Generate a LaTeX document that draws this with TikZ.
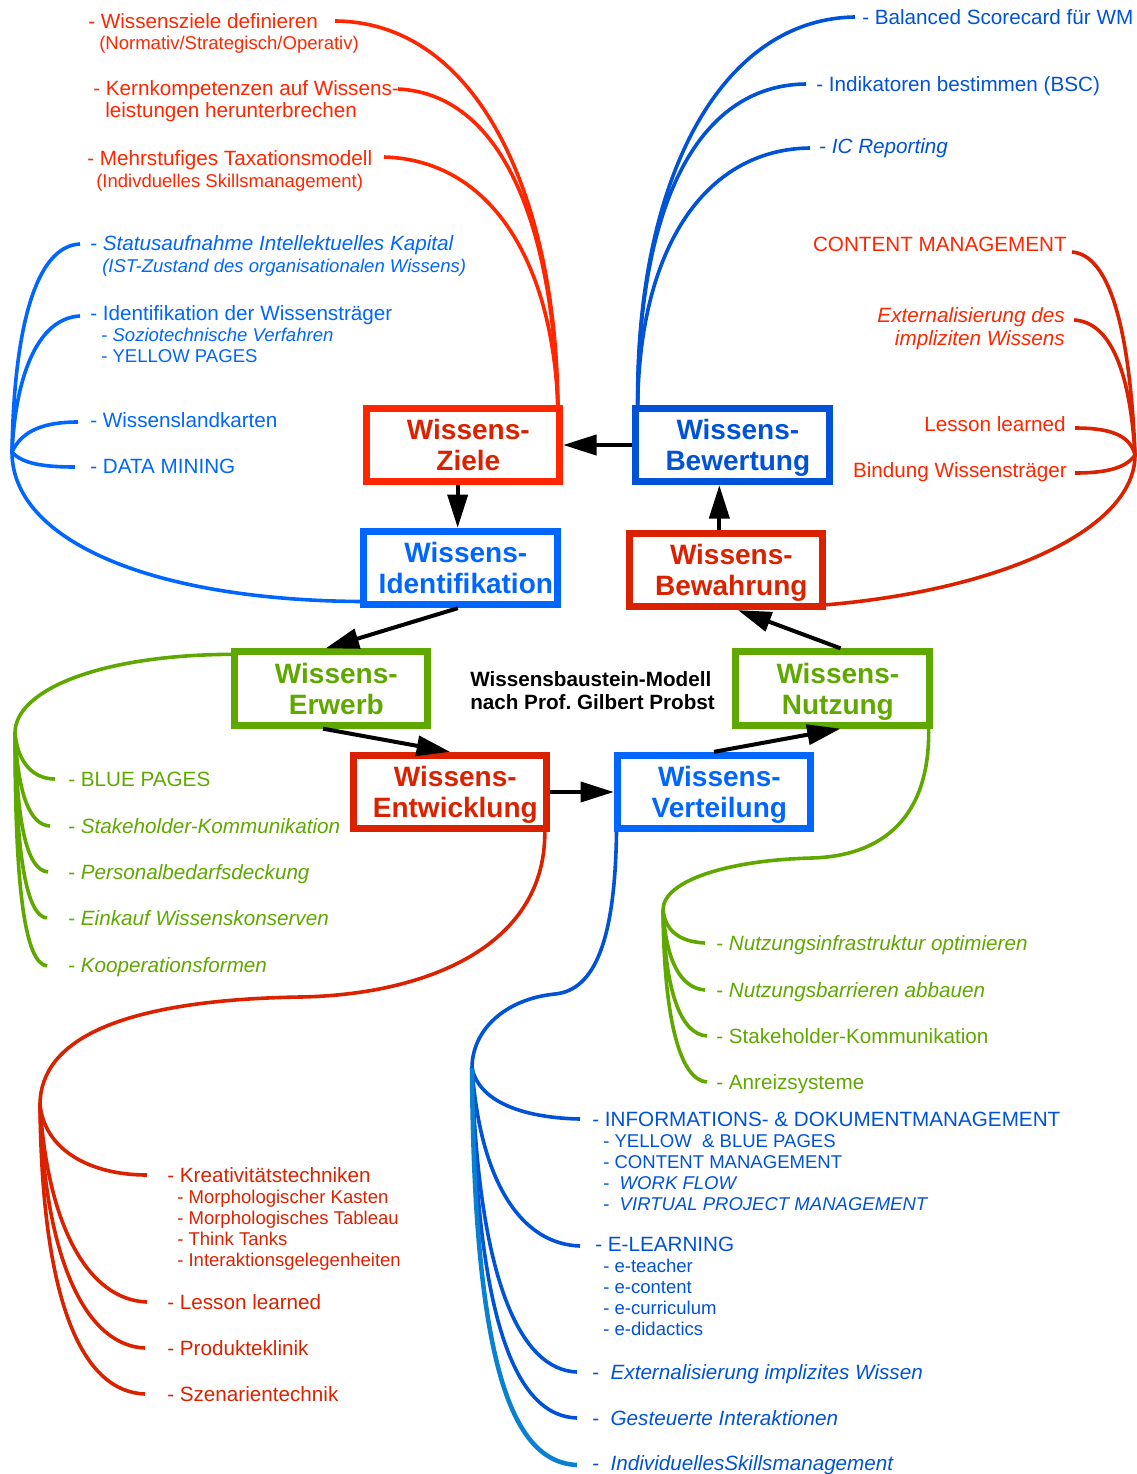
\documentclass[tikz,border=0pt]{standalone}
\usepackage{fontspec}
\setmainfont{Liberation Sans}
\usetikzlibrary{arrows.meta,calc}

\definecolor{rotHell}{HTML}{FF2600}
\definecolor{rotDunkel}{HTML}{DA2200}
\definecolor{blauHell}{HTML}{0066FF}
\definecolor{blauDunkel}{HTML}{0052D6}
\definecolor{blauTuerkis}{HTML}{0A80D0}
\definecolor{gruen}{HTML}{5FA800}

\newcommand{\unter}{\fontsize{13.9}{15.75}\selectfont}
\newcommand{\bst}[2]{\hspace*{8pt}\rule{0pt}{20pt}#1\\\hspace*{8pt}#2\rule[-4.5pt]{0pt}{4.5pt}}
\frenchspacing

\begin{document}
\begin{tikzpicture}[x=0.75pt,y=-0.75pt,
    baustein/.style={draw, line width=5.25pt, minimum width=145pt, minimum height=55pt,
      inner sep=0pt, align=center, font=\bfseries\fontsize{21}{23.25}\selectfont},
    punkt/.style={anchor=north west, inner sep=0pt, align=left, font=\fontsize{15.5}{15.75}\selectfont},
    punktR/.style={punkt, anchor=north east, align=right},
    pfeil/.style={-{Triangle[length=25pt,width=15pt]}, line width=3pt, black},
    ast/.style={line width=2.7pt}]
  \useasboundingbox (0,0) rectangle (1137,1474);

  % Bausteine
  \node[baustein, draw=rotHell, text=rotDunkel] (ziele) at (463,445) {\bst{Wissens-}{Ziele}};
  \node[baustein, draw=blauDunkel, text=blauDunkel] (bewertung) at (732.5,445) {\bst{Wissens-}{Bewertung}};
  \node[baustein, draw=blauHell, text=blauHell] (ident) at (460.5,568) {\bst{Wissens-}{Identifikation}};
  \node[baustein, draw=rotDunkel, text=rotDunkel] (bewahrung) at (726,570) {\bst{Wissens-}{Bewahrung}};
  \node[baustein, draw=gruen, text=gruen] (erwerb) at (331,688.5) {\bst{Wissens-}{Erwerb}};
  \node[baustein, draw=gruen, text=gruen] (nutzung) at (832.5,688.5) {\bst{Wissens-}{Nutzung}};
  \node[baustein, draw=rotDunkel, text=rotDunkel] (entw) at (450,792) {\bst{Wissens-}{Entwicklung}};
  \node[baustein, draw=blauHell, text=blauHell] (vert) at (714,792) {\bst{Wissens-}{Verteilung}};

  \node[punkt, font=\bfseries\fontsize{15.5}{17.25}\selectfont] (titel) at (470,671)
    {Wissensbaustein-Modell\\nach Prof. Gilbert Probst};

  % Kreislauf
  \draw[pfeil] (bewertung.west) -- (ziele.east);
  \draw[pfeil] ([xshift=-4pt]ziele.south) -- ([xshift=-4pt]ziele.south |- ident.north);
  \draw[pfeil] ([xshift=-2pt]ident.south) -- ([xshift=-4pt]erwerb.north);
  \draw[pfeil] ([xshift=-6pt]erwerb.south) -- (entw.north);
  \draw[pfeil] (entw.east) -- (vert.west);
  \draw[pfeil] (vert.north) -- ([xshift=6pt]nutzung.south);
  \draw[pfeil] ([xshift=6pt]nutzung.north) -- ([xshift=9pt]bewahrung.south);
  \draw[pfeil] ([xshift=-5pt]bewahrung.north) -- ([xshift=-5pt]bewahrung.north |- bewertung.south);

  % Ziele
  \node[punkt, text=rotHell] (tZ1) at (88,13) {- Wissensziele definieren\\
    \hspace*{8.25pt}{\unter(Normativ/Strategisch/Operativ)}};
  \node[punkt, text=rotHell] (tZ2) at (93,80) {- Kernkompetenzen auf Wissens-\\[0.75pt]
    \hspace*{9pt}leistungen herunterbrechen};
  \node[punkt, text=rotHell] (tZ3) at (87,150) {- Mehrstufiges Taxationsmodell\\[0.75pt]
    \hspace*{6.75pt}{\unter(Indivduelles Skillsmanagement)}};
  \coordinate (eZ1) at (335,21);
  \coordinate (eZ2) at (398,89);
  \coordinate (eZ3) at (384,157);
  \draw[ast, rotHell] (eZ1) .. controls (480,22) and (556,200) .. ([xshift=-4pt]ziele.north east);
  \draw[ast, rotHell] (eZ2) .. controls (500,94) and (553,220) .. ([xshift=-4pt]ziele.north east);
  \draw[ast, rotHell] (eZ3) .. controls (490,160) and (552,260) .. ([xshift=-4pt]ziele.north east);

  % Bewertung
  \node[punkt, text=blauDunkel] (tB1) at (862,9) {- Balanced Scorecard für WM};
  \node[punkt, text=blauDunkel] (tB2) at (816,76) {- Indikatoren bestimmen (BSC)};
  \node[punkt, text=blauDunkel] (tB3) at (819,138) {- \textit{IC Reporting}};
  \coordinate (eB1) at (855,17);
  \coordinate (eB2) at (806,84);
  \coordinate (eB3) at (810,148);
  \draw[ast, blauDunkel] ([xshift=4pt]bewertung.north west) .. controls (636,180) and (720,19) .. (eB1);
  \draw[ast, blauDunkel] ([xshift=4pt]bewertung.north west) .. controls (638,200) and (700,85) .. (eB2);
  \draw[ast, blauDunkel] ([xshift=4pt]bewertung.north west) .. controls (640,240) and (710,149) .. (eB3);

  % Identifikation
  \node[punkt, text=blauHell] (tI1) at (90,235) {- \textit{Statusaufnahme Intellektuelles Kapital}\\[0.75pt]
    \hspace*{9pt}{\unter\itshape(IST-Zustand des organisationalen Wissens)}};
  \node[punkt, text=blauHell] (tI2) at (90,305) {- Identifikation der Wissensträger\\
    \hspace*{8.25pt}{\unter- \textit{Soziotechnische Verfahren}}\\
    \hspace*{8.25pt}{\unter- YELLOW PAGES}};
  \node[punkt, text=blauHell] (tI3) at (90,412) {- Wissenslandkarten};
  \node[punkt, text=blauHell] (tI4) at (90,459) {- DATA MINING};
  \coordinate (jI) at (12,452);
  \coordinate (eI1) at (80,244);
  \coordinate (eI2) at (80,316);
  \coordinate (eI3) at (78,422);
  \coordinate (eI4) at (75,467);
  \draw[ast, blauHell] ([yshift=5pt]ident.south west) .. controls (150,600) and (12,540) .. (jI);
  \draw[ast, blauHell] (jI) .. controls (14,330) and (35,246) .. (eI1);
  \draw[ast, blauHell] (jI) .. controls (16,370) and (40,318) .. (eI2);
  \draw[ast, blauHell] (jI) .. controls (22,430) and (45,422) .. (eI3);
  \draw[ast, blauHell] (jI) .. controls (22,464) and (45,467) .. (eI4);

  % Bewahrung
  \node[punktR, text=rotHell] (tW1) at (1067,237) {CONTENT MANAGEMENT};
  \node[punktR, text=rotHell] (tW2) at (1065,307) {\textit{Externalisierung des}\\[1.5pt]\textit{impliziten Wissens}};
  \node[punktR, text=rotHell] (tW3) at (1066,416) {Lesson learned};
  \node[punktR, text=rotHell] (tW4) at (1067,462) {Bindung Wissensträger};
  \coordinate (jB) at (1135,455);
  \coordinate (eW1) at (1072,252);
  \coordinate (eW2) at (1074,320);
  \coordinate (eW3) at (1075,428);
  \coordinate (eW4) at (1075,473);
  \draw[ast, rotDunkel] ([yshift=4pt]bewahrung.south east) .. controls (1000,590) and (1135,530) .. (jB);
  \draw[ast, rotDunkel] (jB) .. controls (1130,330) and (1110,255) .. (eW1);
  \draw[ast, rotDunkel] (jB) .. controls (1130,370) and (1110,322) .. (eW2);
  \draw[ast, rotDunkel] (jB) .. controls (1130,435) and (1110,428) .. (eW3);
  \draw[ast, rotDunkel] (jB) .. controls (1125,470) and (1100,473) .. (eW4);

  % Erwerb
  \node[punkt, text=gruen] (tE1) at (68,772) {- BLUE PAGES};
  \node[punkt, text=gruen] (tE2) at (68,818) {- \textit{Stakeholder-Kommunikation}};
  \node[punkt, text=gruen] (tE3) at (68,864) {- \textit{Personalbedarfsdeckung}};
  \node[punkt, text=gruen] (tE4) at (68,910) {- \textit{Einkauf Wissenskonserven}};
  \node[punkt, text=gruen] (tE5) at (68,957) {- \textit{Kooperationsformen}};
  \coordinate (jE) at (15,733);
  \coordinate (eE1) at (55,779);
  \coordinate (eE2) at (50,826);
  \coordinate (eE3) at (48,872);
  \coordinate (eE4) at (47,918);
  \coordinate (eE5) at (47,966);
  \draw[ast, gruen] ([yshift=-4.5pt]erwerb.north west) .. controls (100,655) and (15,690) .. (jE);
  \draw[ast, gruen] (jE) .. controls (18,765) and (35,779) .. (eE1);
  \draw[ast, gruen] (jE) .. controls (18,795) and (30,825) .. (eE2);
  \draw[ast, gruen] (jE) .. controls (17,830) and (28,870) .. (eE3);
  \draw[ast, gruen] (jE) .. controls (16,860) and (27,916) .. (eE4);
  \draw[ast, gruen] (jE) .. controls (15,890) and (25,963) .. (eE5);

  % Nutzung
  \node[punkt, text=gruen] (tN1) at (716,935) {- \textit{Nutzungsinfrastruktur optimieren}};
  \node[punkt, text=gruen] (tN2) at (716,982) {- \textit{Nutzungsbarrieren abbauen}};
  \node[punkt, text=gruen] (tN3) at (716,1028) {- Stakeholder-Kommunikation};
  \node[punkt, text=gruen] (tN4) at (716,1074) {- Anreizsysteme};
  \coordinate (kN) at (812,858);
  \coordinate (jN) at (663,910);
  \coordinate (eN1) at (705,943);
  \coordinate (eN2) at (705,990);
  \coordinate (eN3) at (707,1036);
  \coordinate (eN4) at (707,1082);
  \draw[ast, gruen] ([xshift=-3pt]nutzung.south east) .. controls (930,820) and (880,856) .. (kN)
    .. controls (730,860) and (663,880) .. (jN);
  \draw[ast, gruen] (jN) .. controls (666,935) and (685,942) .. (eN1);
  \draw[ast, gruen] (jN) .. controls (666,960) and (680,988) .. (eN2);
  \draw[ast, gruen] (jN) .. controls (665,990) and (680,1034) .. (eN3);
  \draw[ast, gruen] (jN) .. controls (664,1020) and (680,1080) .. (eN4);

  % Entwicklung
  \node[punkt, text=rotDunkel] (tD1) at (167,1167) {- Kreativitätstechniken\\
    \hspace*{7.5pt}{\unter- Morphologischer Kasten}\\
    \hspace*{7.5pt}{\unter- Morphologisches Tableau}\\
    \hspace*{7.5pt}{\unter- Think Tanks}\\
    \hspace*{7.5pt}{\unter- Interaktionsgelegenheiten}};
  \node[punkt, text=rotDunkel] (tD2) at (167,1294) {- Lesson learned};
  \node[punkt, text=rotDunkel] (tD3) at (167,1340) {- Produkteklinik};
  \node[punkt, text=rotDunkel] (tD4) at (167,1386) {- Szenarientechnik};
  \coordinate (kD) at (300,997);
  \coordinate (jD) at (40,1105);
  \coordinate (eD1) at (147,1175);
  \coordinate (eD2) at (147,1302);
  \coordinate (eD3) at (145,1348);
  \coordinate (eD4) at (145,1394);
  \draw[ast, rotDunkel] ([xshift=-4pt]entw.south east) .. controls (545,950) and (420,995) .. (kD)
    .. controls (120,1000) and (40,1040) .. (jD);
  \draw[ast, rotDunkel] (jD) .. controls (45,1150) and (90,1175) .. (eD1);
  \draw[ast, rotDunkel] (jD) .. controls (48,1230) and (90,1300) .. (eD2);
  \draw[ast, rotDunkel] (jD) .. controls (45,1270) and (90,1346) .. (eD3);
  \draw[ast, rotDunkel] (jD) .. controls (42,1310) and (85,1392) .. (eD4);

  % Verteilung
  \node[punkt, text=blauDunkel] (tV1) at (592,1112) {- INFORMATIONS- \& DOKUMENTMANAGEMENT\\
    \hspace*{8.25pt}{\unter- YELLOW\ \ \& BLUE PAGES}\\
    \hspace*{8.25pt}{\unter- CONTENT MANAGEMENT}\\
    \hspace*{8.25pt}{\unter-\ \ \textit{WORK FLOW}}\\
    \hspace*{8.25pt}{\unter-\ \ \textit{VIRTUAL PROJECT MANAGEMENT}}};
  \node[punkt, text=blauDunkel] (tV2) at (595,1237) {- E-LEARNING\\
    \hspace*{6pt}{\unter- e-teacher}\\
    \hspace*{6pt}{\unter- e-content}\\
    \hspace*{6pt}{\unter- e-curriculum}\\
    \hspace*{6pt}{\unter- e-didactics}};
  \node[punkt, text=blauDunkel] (tV3) at (592,1364) {-\ \ \textit{Externalisierung implizites Wissen}};
  \node[punkt, text=blauDunkel] (tV4) at (592,1410) {-\ \ \textit{Gesteuerte Interaktionen}};
  \node[punkt, text=blauDunkel] (tV5) at (592,1455) {-\ \ \textit{IndividuellesSkillsmanagement}};
  \coordinate (kV) at (555,994);
  \coordinate (jV) at (472,1068);
  \coordinate (eV1) at (580,1119);
  \coordinate (eV2) at (580,1246);
  \coordinate (eV3) at (577,1372);
  \coordinate (eV4) at (577,1418);
  \coordinate (eV5) at (577,1465);
  \draw[ast, blauDunkel] ([xshift=2pt]vert.south west) .. controls (615,940) and (595,990) .. (kV)
    .. controls (505,999) and (472,1030) .. (jV);
  \draw[ast, blauDunkel] (jV) .. controls (480,1105) and (530,1118) .. (eV1);
  \draw[ast, blauDunkel] (jV) .. controls (480,1180) and (520,1244) .. (eV2);
  \draw[ast, blauDunkel] (jV) .. controls (478,1280) and (520,1370) .. (eV3);
  \draw[ast, blauDunkel] (jV) .. controls (476,1320) and (515,1416) .. (eV4);
  \draw[ast, blauTuerkis, line width=3.4pt] (jV) .. controls (474,1360) and (510,1462) .. (eV5);
\end{tikzpicture}
\end{document}
